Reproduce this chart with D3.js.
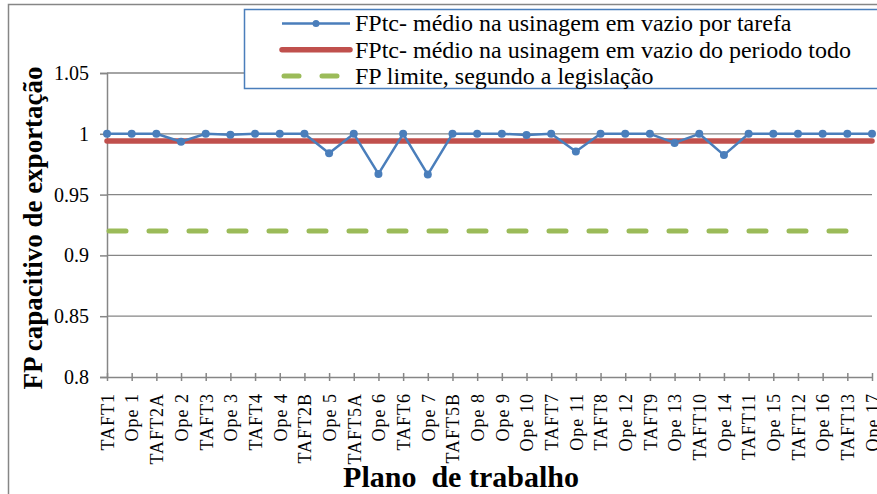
<!DOCTYPE html>
<html>
<head>
<meta charset="utf-8">
<script src="https://cdn.jsdelivr.net/npm/d3@7"></script>
<style>
body { margin: 0; background: #fff; }
svg { display: block; }
svg text { font-family: "Liberation Serif", "Times New Roman", serif; }
</style>
</head>
<body>
<script>
var w = 877;
var h = 494;

var categories = ["TAFT1", "Ope 1", "TAFT2A", "Ope 2", "TAFT3", "Ope 3", "TAFT4", "Ope 4",
   "TAFT2B", "Ope 5", "TAFT5A", "Ope 6", "TAFT6", "Ope 7", "TAFT5B", "Ope 8", "Ope 9",
   "Ope 10", "TAFT7", "Ope 11", "TAFT8", "Ope 12", "TAFT9", "Ope 13", "TAFT10", "Ope 14",
   "TAFT11", "Ope 15", "TAFT12", "Ope 16", "TAFT13", "Ope 17"];
// FPtc medio por tarefa
var fpTarefa = [1.000, 1.000, 1.000, 0.9935, 1.000, 0.9993, 1.000, 1.000,
   1.000, 0.984, 1.000, 0.967, 1.000, 0.9665, 1.000, 1.000, 1.000,
   0.999, 1.000, 0.9855, 1.000, 1.000, 1.000, 0.9925, 1.000, 0.9825,
   1.000, 1.000, 1.000, 1.000, 1.000, 1.000];
var fpPeriodo = [0.994];
var fpLimite = [0.92];
var yTicks = [0.8, 0.85, 0.9, 0.95, 1, 1.05];
var yTickLabels = ["0.8", "0.85", "0.9", "0.95", "1", "1.05"];
var legendLabels = ["FPtc- médio na usinagem em vazio por tarefa",
   "FPtc- médio na usinagem em vazio do periodo todo",
   "FP limite, segundo a legislação"];

var blue = "#4a7ebb", red = "#c0504d", green = "#9bbb59", gray = "#868686";
var serif = "'Liberation Serif', 'Times New Roman', serif";

var svg = d3.select("body").append("svg")
   .attr("width", w)
   .attr("height", h);

// outer chart border
svg.append("rect")
   .attr("x", 8.5).attr("y", 4.5)
   .attr("width", 1000).attr("height", 1000)
   .attr("fill", "none").attr("stroke", gray).attr("stroke-width", 1.5);

var x = d3.scalePoint().domain(categories).range([107, 872]);
var y = d3.scaleLinear().domain([0.8, 1.05]).range([377, 73]);

// gridlines
svg.append("g").selectAll("line")
   .data(yTicks.slice(1))
   .enter().append("line")
   .attr("x1", 107).attr("x2", 872)
   .attr("y1", function(d) { return y(d); })
   .attr("y2", function(d) { return y(d); })
   .attr("stroke", gray).attr("stroke-width", 1.3);

// y axis
var yAxis = svg.append("g")
   .attr("transform", "translate(107,0)")
   .call(d3.axisLeft(y).tickValues(yTicks).tickSize(7).tickPadding(11)
      .tickFormat(function(d, i) { return yTickLabels[i]; }));
yAxis.attr("font-family", null);
yAxis.select(".domain").attr("stroke", gray).attr("stroke-width", 1.5);
yAxis.selectAll(".tick line").attr("stroke", gray).attr("stroke-width", 1.5);
yAxis.selectAll("text")
   .style("font-family", serif)
   .attr("font-size", 20).attr("fill", "#000");

// x axis
var xAxis = svg.append("g")
   .attr("transform", "translate(0,377)")
   .call(d3.axisBottom(x).tickSizeOuter(0).tickSizeInner(4));
xAxis.attr("font-family", null);
xAxis.select(".domain").attr("stroke", gray).attr("stroke-width", 1.5);
xAxis.selectAll(".tick line").attr("y1", -4).attr("y2", 4)
   .attr("stroke", gray).attr("stroke-width", 1.5);
xAxis.selectAll("text")
   .style("font-family", serif)
   .style("letter-spacing", "1px")
   .attr("font-size", 18).attr("fill", "#000")
   .attr("text-anchor", "end")
   .attr("transform", "rotate(-90)")
   .attr("x", -16).attr("y", 0).attr("dy", "0.35em");

// limit line (dashed green)
svg.selectAll(".limite")
   .data(fpLimite)
   .enter().append("line")
   .attr("class", "limite")
   .attr("x1", x(categories[0]) + 2).attr("x2", x(categories[categories.length - 1]) - 8)
   .attr("y1", function(d) { return y(d); })
   .attr("y2", function(d) { return y(d); })
   .attr("stroke", green).attr("stroke-width", 5)
   .attr("stroke-linecap", "round")
   .attr("stroke-dasharray", "17,23");

// mean of whole period (red)
svg.selectAll(".periodo")
   .data(fpPeriodo)
   .enter().append("line")
   .attr("class", "periodo")
   .attr("x1", x(categories[0])).attr("x2", x(categories[categories.length - 1]))
   .attr("y1", function(d) { return y(d); })
   .attr("y2", function(d) { return y(d); })
   .attr("stroke", red).attr("stroke-width", 5.5)
   .attr("stroke-linecap", "round");

// per task line with markers
var line = d3.line()
   .x(function(d, i) { return x(categories[i]); })
   .y(function(d) { return y(d); });
svg.append("path")
   .datum(fpTarefa)
   .attr("d", line)
   .attr("fill", "none").attr("stroke", blue).attr("stroke-width", 2.5)
   .attr("stroke-linejoin", "round");
svg.selectAll(".pt")
   .data(fpTarefa)
   .enter().append("circle")
   .attr("class", "pt")
   .attr("cx", function(d, i) { return x(categories[i]); })
   .attr("cy", function(d) { return y(d); })
   .attr("r", 4)
   .attr("fill", blue);

// axis titles
svg.append("text")
   .attr("transform", "translate(42,228) rotate(-90)")
   .attr("text-anchor", "middle")
   .style("font-family", serif)
   .attr("font-size", 27).attr("font-weight", "bold")
   .text("FP capacitivo de exportação");
svg.append("text")
   .attr("x", 461).attr("y", 487)
   .attr("text-anchor", "middle")
   .style("font-family", serif)
   .style("white-space", "pre")
   .attr("font-size", 30).attr("font-weight", "bold")
   .text("Plano  de trabalho");

// legend
var lg = svg.append("g");
lg.append("rect")
   .attr("x", 244.5).attr("y", 9.5)
   .attr("width", 700).attr("height", 79)
   .attr("fill", "#fff").attr("stroke", blue).attr("stroke-width", 1.5);
var rows = lg.selectAll(".row")
   .data(legendLabels)
   .enter().append("g")
   .attr("class", "row")
   .attr("transform", function(d, i) { return "translate(0," + (23.5 + i * 26.3) + ")"; });
rows.append("line")
   .attr("x1", function(d, i) { return i == 2 ? 284 : 282; })
   .attr("x2", function(d, i) { return i == 2 ? 340 : 350; })
   .attr("stroke", function(d, i) { return [blue, red, green][i]; })
   .attr("stroke-width", function(d, i) { return [2.5, 5.5, 5][i]; })
   .attr("stroke-linecap", function(d, i) { return i == 0 ? "butt" : "round"; })
   .attr("stroke-dasharray", function(d, i) { return i == 2 ? "15,23" : null; });
rows.filter(function(d, i) { return i == 0; })
   .append("circle")
   .attr("cx", 316).attr("r", 3.5).attr("fill", blue);
rows.append("text")
   .attr("x", 355).attr("dy", "0.33em")
   .style("font-family", serif)
   .attr("font-size", 24)
   .text(function(d) { return d; });
</script>
</body>
</html>
